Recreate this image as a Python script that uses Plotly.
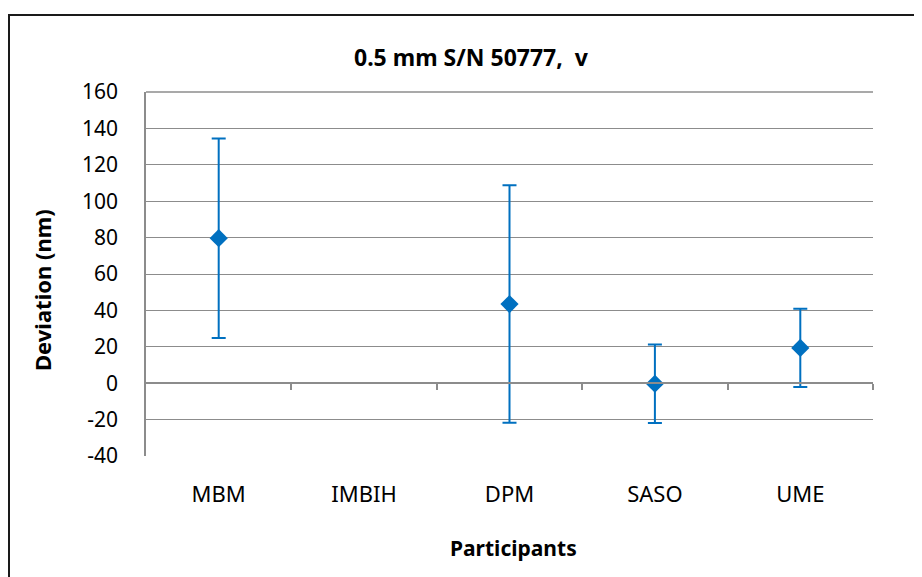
import plotly.graph_objects as go

participants = ["MBM", "IMBIH", "DPM", "SASO", "UME"]
deviation = [79.7, None, 43.5, -0.3, 19.4]
uncertainty = [54.8, None, 65.2, 21.6, 21.5]
y_ticks = [-40, -20, 0, 20, 40, 60, 80, 100, 120, 140, 160]
y_tick_text = ["-40", "-20", "0", "20", "40", "60", "80", "100", "120", "140", "160"]

BLUE = "#0070C0"
GRID = "#8c8c8c"
FONT = "Noto Sans"

xs = list(range(len(participants)))
fig = go.Figure()
fig.add_trace(go.Scatter(
    x=xs, y=deviation, mode="markers",
    marker=dict(symbol="diamond", size=14, color=BLUE),
    error_y=dict(type="data", array=uncertainty, visible=True,
                 color=BLUE, thickness=2, width=7),
    showlegend=False, cliponaxis=False,
))
fig.add_trace(go.Scatter(x=[None], y=[None], xaxis="x2", showlegend=False))

OFF = 8  # page body offset
W, H = 922 - OFF, 577 - OFF
L, T = 146 - OFF, 92 - OFF
PR, PB = 873 - OFF, 456 - OFF
R, B = W - PR, H - PB
pw, ph = PR - L, PB - T

def px(x):
    return (x - OFF - L) / pw

def py(y):
    return (PB - (y - OFF)) / ph

fig.update_layout(
    width=W, height=H,
    margin=dict(l=L, r=R, t=T, b=B),
    paper_bgcolor="white", plot_bgcolor="white",
    font=dict(family=FONT, color="black"),
    xaxis=dict(range=[-0.5, 4.5], tickvals=xs, ticktext=participants,
               showgrid=False, zeroline=False, showline=False,
               ticks="outside", ticklen=0, ticklabelstandoff=19,
               tickfont=dict(size=22, family=FONT), fixedrange=True),
    xaxis2=dict(range=[-0.5, 4.5], overlaying="x", anchor="free",
                position=0.2, side="bottom",
                tickvals=[0.5, 1.5, 2.5, 3.5, 4.5], showticklabels=False,
                ticks="outside", ticklen=6, tickcolor=GRID, tickwidth=1.5,
                showline=True, linecolor=GRID, linewidth=1.5,
                showgrid=False, zeroline=False),
    yaxis=dict(range=[-40, 160], tickvals=y_ticks, ticktext=y_tick_text,
               showgrid=True, gridcolor=GRID, gridwidth=1.3,
               zeroline=False, showline=True, linecolor=GRID, linewidth=1.5,
               mirror=False, ticks="outside", ticklen=0,
               ticklabelstandoff=22,
               tickfont=dict(size=21, family=FONT)),
    shapes=[
        dict(type="line", xref="paper", yref="paper",
             x0=0, x1=1, y0=1, y1=1, line=dict(color=GRID, width=1.3)),
        dict(type="rect", xref="paper", yref="paper",
             x0=px(9), x1=px(960), y0=py(15), y1=py(620),
             line=dict(color="#1a1a1a", width=2), layer="above"),
    ],
    annotations=[
        dict(text="<b>0.5 mm S/N 50777,  v</b>", xref="paper", yref="paper",
             x=px(471), y=py(57), xanchor="center", yanchor="middle",
             showarrow=False, font=dict(size=23, family=FONT)),
        dict(text="<b>Deviation (nm)</b>", xref="paper", yref="paper",
             x=px(42), y=py(290), xanchor="center", yanchor="middle",
             showarrow=False, textangle=-90,
             font=dict(size=22, family=FONT)),
        dict(text="<b>Participants</b>", xref="paper", yref="paper",
             x=px(513), y=py(548), xanchor="center", yanchor="middle",
             showarrow=False, font=dict(size=21, family=FONT)),
    ],
)

fig.write_html("out.html")
